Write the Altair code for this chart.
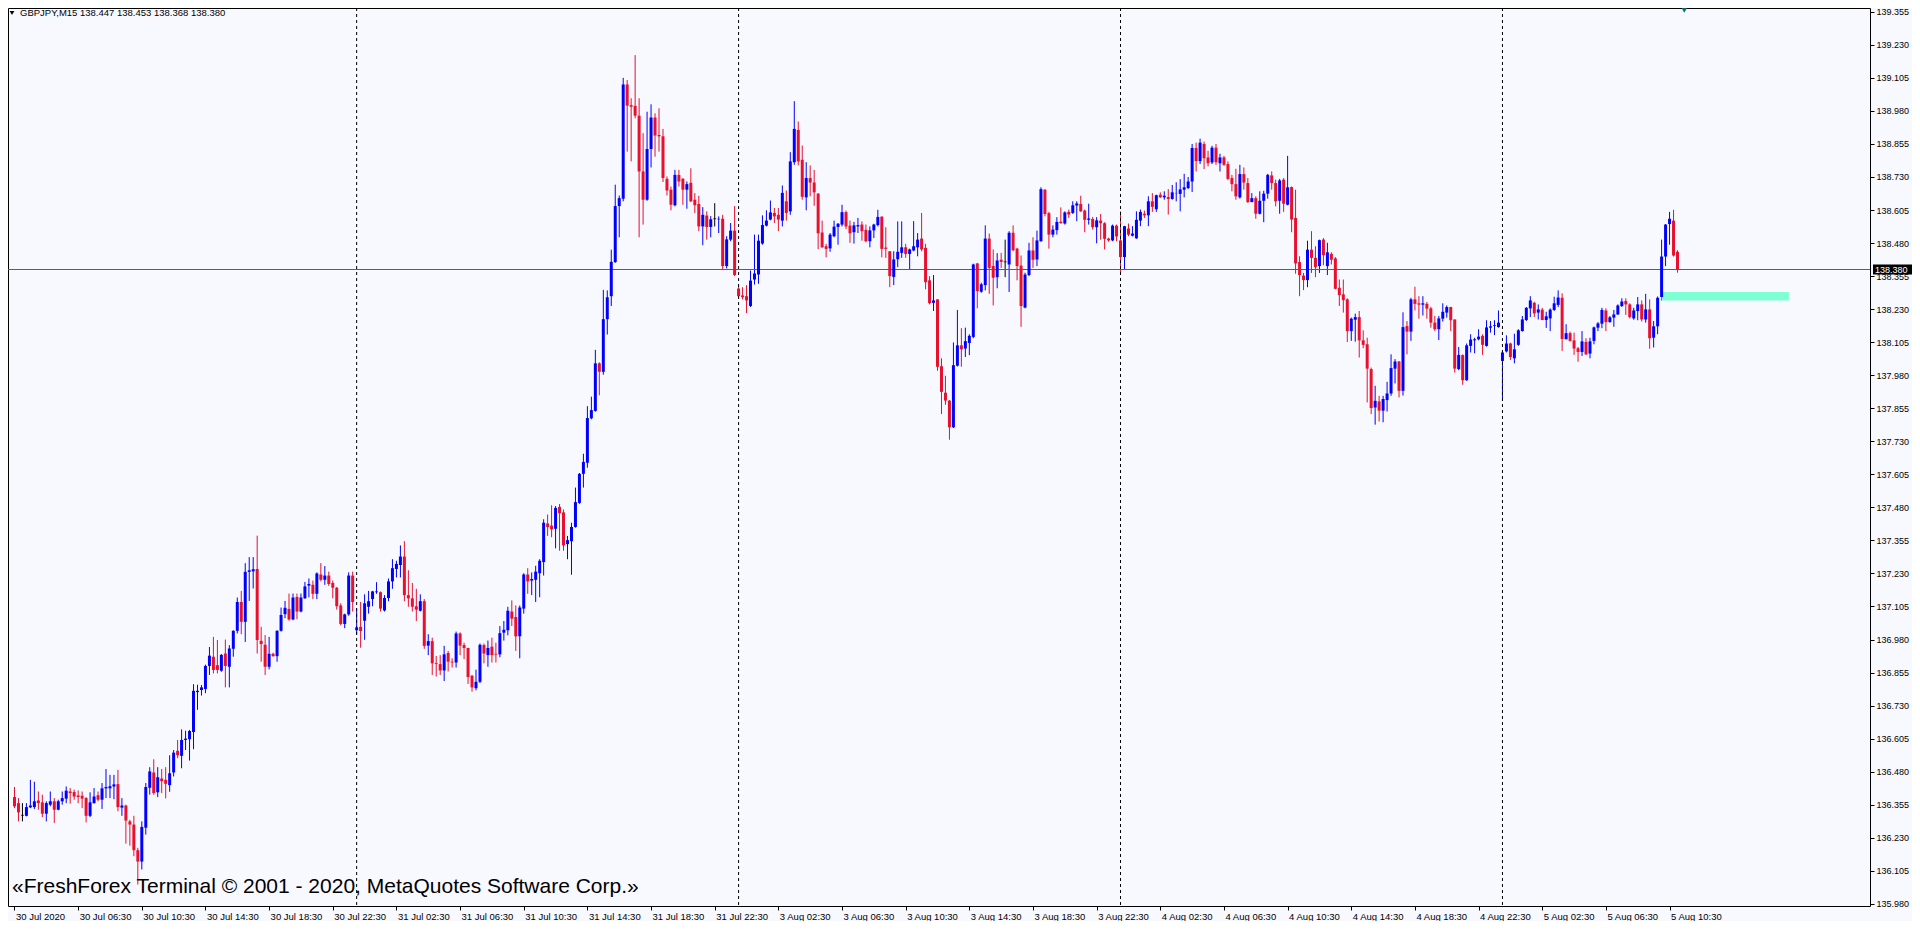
import altair as alt
import pandas as pd

# ---------------- data (GBPJPY, M15) ----------------
OPEN = [
    136.384, 136.361, 136.315, 136.313, 136.345, 136.346, 136.371, 136.364, 136.321, 136.355,
    136.368, 136.336, 136.368, 136.378, 136.405, 136.403, 136.390, 136.389, 136.380, 136.313,
    136.361, 136.391, 136.374, 136.417, 136.417, 136.424, 136.433, 136.344, 136.352, 136.292,
    136.280, 136.183, 136.140, 136.268, 136.419, 136.477, 136.402, 136.454, 136.449, 136.429,
    136.477, 136.559, 136.540, 136.600, 136.603, 136.630, 136.781, 136.789, 136.793, 136.880,
    136.915, 136.883, 136.862, 136.927, 136.877, 136.945, 137.013, 137.122, 137.047, 137.236,
    137.238, 137.247, 136.975, 136.960, 136.877, 136.926, 136.917, 137.013, 137.076, 137.096,
    137.056, 137.141, 137.086, 137.136, 137.184, 137.187, 137.153, 137.226, 137.206, 137.222,
    137.194, 137.176, 137.109, 137.039, 137.075, 137.222, 137.015, 137.028, 137.051, 137.104,
    137.133, 137.159, 137.159, 137.090, 137.137, 137.200, 137.247, 137.262, 137.294, 137.148,
    137.136, 137.106, 137.089, 137.125, 136.957, 136.974, 136.891, 136.887, 136.863, 136.929,
    136.896, 136.893, 137.003, 136.959, 136.948, 136.843, 136.796, 136.820, 136.959, 136.921,
    136.953, 136.926, 136.924, 137.006, 137.015, 137.086, 137.065, 136.992, 137.097, 137.226,
    137.203, 137.206, 137.231, 137.273, 137.419, 137.411, 137.399, 137.482, 137.461, 137.341,
    137.352, 137.406, 137.497, 137.607, 137.649, 137.817, 137.845, 138.025, 137.993, 138.192,
    138.279, 138.408, 138.620, 138.648, 139.080, 139.002, 138.999, 138.962, 138.751, 138.644,
    138.836, 138.955, 138.889, 138.884, 138.723, 138.682, 138.623, 138.738, 138.723, 138.682,
    138.708, 138.644, 138.628, 138.543, 138.584, 138.541, 138.572, 138.570, 138.572, 138.393,
    138.493, 138.527, 138.308, 138.282, 138.279, 138.242, 138.342, 138.361, 138.478, 138.546,
    138.569, 138.594, 138.587, 138.565, 138.638, 138.600, 138.786, 138.908, 138.795, 138.653,
    138.726, 138.709, 138.667, 138.520, 138.468, 138.460, 138.506, 138.541, 138.550, 138.597,
    138.546, 138.521, 138.543, 138.550, 138.530, 138.487, 138.528, 138.548, 138.580, 138.463,
    138.449, 138.352, 138.419, 138.443, 138.464, 138.439, 138.452, 138.464, 138.497, 138.462,
    138.339, 138.254, 138.267, 138.014, 137.914, 137.884, 137.783, 138.016, 138.093, 138.081,
    138.102, 138.125, 138.403, 138.296, 138.321, 138.497, 138.393, 138.351, 138.417, 138.409,
    138.399, 138.519, 138.459, 138.395, 138.236, 138.359, 138.452, 138.418, 138.487, 138.682,
    138.593, 138.512, 138.529, 138.561, 138.554, 138.598, 138.594, 138.622, 138.628, 138.603,
    138.568, 138.571, 138.540, 138.565, 138.555, 138.497, 138.490, 138.546, 138.490, 138.427,
    138.535, 138.508, 138.498, 138.565, 138.591, 138.585, 138.638, 138.608, 138.663, 138.653,
    138.654, 138.647, 138.666, 138.666, 138.682, 138.688, 138.713, 138.840, 138.790, 138.855,
    138.804, 138.785, 138.841, 138.782, 138.804, 138.779, 138.726, 138.703, 138.653, 138.741,
    138.707, 138.635, 138.650, 138.591, 138.640, 138.667, 138.736, 138.707, 138.640, 138.720,
    138.625, 138.692, 138.575, 138.408, 138.357, 138.340, 138.455, 138.424, 138.393, 138.493,
    138.393, 138.439, 138.422, 138.311, 138.286, 138.267, 138.147, 138.190, 138.200, 138.112,
    138.097, 138.003, 137.858, 137.881, 137.846, 137.886, 137.911, 138.005, 138.032, 137.921,
    138.166, 138.145, 138.267, 138.252, 138.247, 138.250, 138.233, 138.179, 138.154, 138.194,
    138.217, 138.238, 138.191, 138.003, 138.056, 137.961, 138.091, 138.112, 138.116, 138.129,
    138.091, 138.160, 138.166, 138.162, 138.034, 138.070, 138.100, 138.044, 138.095, 138.147,
    138.189, 138.233, 138.254, 138.217, 138.228, 138.189, 138.195, 138.227, 138.246, 138.273,
    138.116, 138.139, 138.112, 138.082, 138.068, 138.106, 138.062, 138.110, 138.160, 138.175,
    138.225, 138.181, 138.198, 138.210, 138.242, 138.261, 138.248, 138.195, 138.223, 138.248,
    138.191, 138.229, 138.122, 138.165, 138.276, 138.429, 138.552, 138.565, 138.447,
]
HIGH = [
    136.422, 136.380, 136.361, 136.361, 136.449, 136.442, 136.405, 136.393, 136.368, 136.405,
    136.380, 136.374, 136.405, 136.424, 136.418, 136.412, 136.409, 136.405, 136.384, 136.402,
    136.418, 136.405, 136.437, 136.490, 136.468, 136.468, 136.487, 136.380, 136.355, 136.298,
    136.313, 136.192, 136.292, 136.437, 136.497, 136.527, 136.497, 136.490, 136.497, 136.542,
    136.562, 136.600, 136.640, 136.635, 136.638, 136.811, 136.809, 136.808, 136.885, 136.952,
    136.990, 136.978, 136.925, 136.980, 136.959, 137.015, 137.139, 137.164, 137.269, 137.292,
    137.292, 137.373, 137.028, 136.997, 136.990, 136.930, 137.015, 137.101, 137.126, 137.154,
    137.154, 137.154, 137.154, 137.198, 137.211, 137.203, 137.234, 137.269, 137.258, 137.237,
    137.203, 137.179, 137.117, 137.078, 137.234, 137.237, 137.097, 137.122, 137.151, 137.164,
    137.164, 137.197, 137.162, 137.148, 137.211, 137.284, 137.278, 137.336, 137.352, 137.242,
    137.194, 137.172, 137.151, 137.133, 137.000, 136.987, 136.918, 136.921, 136.956, 136.937,
    136.909, 137.010, 137.007, 136.968, 136.949, 136.846, 136.866, 136.965, 136.965, 136.976,
    136.987, 136.968, 137.031, 137.050, 137.104, 137.128, 137.109, 137.109, 137.231, 137.250,
    137.234, 137.259, 137.284, 137.435, 137.453, 137.488, 137.485, 137.493, 137.472, 137.372,
    137.422, 137.555, 137.610, 137.683, 137.863, 137.899, 138.076, 138.029, 138.303, 138.301,
    138.455, 138.701, 138.660, 139.105, 139.097, 139.028, 139.191, 139.028, 138.896, 138.977,
    139.005, 138.971, 138.990, 138.912, 138.732, 138.694, 138.757, 138.757, 138.726, 138.713,
    138.763, 138.669, 138.659, 138.616, 138.600, 138.582, 138.631, 138.581, 138.587, 138.506,
    138.556, 138.620, 138.323, 138.313, 138.321, 138.376, 138.512, 138.512, 138.585, 138.604,
    138.641, 138.613, 138.613, 138.698, 138.679, 138.824, 139.017, 138.940, 138.849, 138.786,
    138.774, 138.757, 138.669, 138.565, 138.477, 138.518, 138.565, 138.556, 138.625, 138.603,
    138.565, 138.560, 138.575, 138.562, 138.550, 138.543, 138.553, 138.606, 138.581, 138.540,
    138.449, 138.449, 138.562, 138.562, 138.477, 138.459, 138.563, 138.518, 138.594, 138.477,
    138.355, 138.359, 138.267, 138.044, 137.978, 137.886, 138.104, 138.227, 138.158, 138.160,
    138.135, 138.402, 138.405, 138.330, 138.547, 138.516, 138.456, 138.442, 138.443, 138.493,
    138.525, 138.547, 138.462, 138.433, 138.368, 138.481, 138.502, 138.527, 138.691, 138.684,
    138.598, 138.547, 138.578, 138.615, 138.600, 138.607, 138.638, 138.638, 138.659, 138.607,
    138.629, 138.579, 138.578, 138.590, 138.559, 138.500, 138.550, 138.550, 138.600, 138.545,
    138.554, 138.544, 138.600, 138.607, 138.603, 138.657, 138.669, 138.663, 138.672, 138.676,
    138.684, 138.700, 138.710, 138.722, 138.742, 138.730, 138.855, 138.860, 138.875, 138.864,
    138.829, 138.848, 138.855, 138.818, 138.810, 138.789, 138.738, 138.761, 138.776, 138.766,
    138.726, 138.669, 138.657, 138.676, 138.678, 138.742, 138.751, 138.720, 138.723, 138.726,
    138.810, 138.694, 138.682, 138.430, 138.367, 138.489, 138.525, 138.468, 138.493, 138.499,
    138.481, 138.445, 138.427, 138.342, 138.342, 138.271, 138.198, 138.213, 138.223, 138.150,
    138.122, 138.009, 137.940, 137.902, 137.902, 137.955, 138.059, 138.041, 138.034, 138.218,
    138.185, 138.273, 138.315, 138.279, 138.279, 138.257, 138.239, 138.204, 138.204, 138.252,
    138.244, 138.239, 138.191, 138.087, 138.059, 138.100, 138.135, 138.122, 138.154, 138.135,
    138.188, 138.185, 138.188, 138.225, 138.072, 138.131, 138.103, 138.137, 138.154, 138.204,
    138.238, 138.279, 138.258, 138.248, 138.235, 138.220, 138.233, 138.277, 138.301, 138.290,
    138.173, 138.145, 138.141, 138.087, 138.147, 138.120, 138.122, 138.164, 138.181, 138.235,
    138.233, 138.204, 138.227, 138.248, 138.271, 138.271, 138.252, 138.235, 138.276, 138.263,
    138.288, 138.267, 138.185, 138.278, 138.493, 138.552, 138.598, 138.606, 138.453,
]
LOW = [
    136.342, 136.292, 136.292, 136.311, 136.342, 136.339, 136.336, 136.308, 136.292, 136.349,
    136.286, 136.334, 136.355, 136.361, 136.359, 136.374, 136.361, 136.342, 136.288, 136.308,
    136.359, 136.368, 136.339, 136.380, 136.380, 136.376, 136.330, 136.313, 136.208, 136.200,
    136.160, 136.053, 136.110, 136.242, 136.393, 136.393, 136.384, 136.399, 136.379, 136.404,
    136.462, 136.531, 136.493, 136.562, 136.522, 136.565, 136.714, 136.768, 136.777, 136.846,
    136.852, 136.852, 136.858, 136.799, 136.799, 136.915, 137.003, 137.000, 136.971, 137.126,
    137.173, 136.927, 136.896, 136.846, 136.867, 136.915, 136.896, 137.010, 137.061, 137.051,
    137.053, 137.057, 137.083, 137.134, 137.140, 137.133, 137.133, 137.200, 137.187, 137.183,
    137.136, 137.093, 137.034, 137.023, 137.070, 137.086, 136.999, 136.949, 136.979, 137.078,
    137.106, 137.153, 137.086, 137.086, 137.125, 137.172, 137.215, 137.215, 137.125, 137.104,
    137.086, 137.050, 137.086, 136.945, 136.921, 136.846, 136.840, 136.846, 136.823, 136.859,
    136.874, 136.874, 136.921, 136.906, 136.812, 136.783, 136.788, 136.815, 136.890, 136.877,
    136.893, 136.893, 136.913, 136.976, 136.996, 137.031, 136.937, 136.909, 137.078, 137.153,
    137.148, 137.122, 137.140, 137.222, 137.372, 137.367, 137.325, 137.316, 137.316, 137.284,
    137.225, 137.403, 137.493, 137.555, 137.630, 137.813, 137.842, 137.904, 137.982, 138.134,
    138.242, 138.405, 138.502, 138.638, 138.826, 138.789, 138.952, 138.502, 138.550, 138.640,
    138.766, 138.807, 138.826, 138.711, 138.660, 138.604, 138.619, 138.694, 138.625, 138.610,
    138.635, 138.594, 138.525, 138.472, 138.493, 138.502, 138.543, 138.518, 138.380, 138.384,
    138.487, 138.355, 138.273, 138.267, 138.215, 138.238, 138.323, 138.326, 138.474, 138.543,
    138.566, 138.556, 138.525, 138.543, 138.565, 138.587, 138.776, 138.774, 138.644, 138.604,
    138.657, 138.621, 138.457, 138.462, 138.426, 138.447, 138.502, 138.474, 138.543, 138.533,
    138.481, 138.478, 138.518, 138.489, 138.483, 138.464, 138.499, 138.543, 138.426, 138.424,
    138.313, 138.321, 138.389, 138.424, 138.424, 138.380, 138.449, 138.430, 138.449, 138.305,
    138.248, 138.223, 137.997, 137.833, 137.868, 137.736, 137.780, 138.013, 138.012, 138.049,
    138.056, 138.120, 138.233, 138.292, 138.301, 138.288, 138.244, 138.309, 138.386, 138.351,
    138.295, 138.449, 138.339, 138.163, 138.233, 138.355, 138.386, 138.393, 138.485, 138.581,
    138.459, 138.502, 138.512, 138.554, 138.550, 138.575, 138.590, 138.563, 138.598, 138.521,
    138.550, 138.531, 138.479, 138.493, 138.456, 138.485, 138.487, 138.487, 138.361, 138.380,
    138.506, 138.505, 138.496, 138.544, 138.575, 138.544, 138.598, 138.598, 138.651, 138.644,
    138.588, 138.644, 138.638, 138.600, 138.653, 138.684, 138.673, 138.751, 138.779, 138.760,
    138.770, 138.779, 138.776, 138.751, 138.772, 138.718, 138.676, 138.644, 138.648, 138.682,
    138.632, 138.635, 138.572, 138.588, 138.559, 138.648, 138.682, 138.619, 138.591, 138.598,
    138.623, 138.521, 138.364, 138.279, 138.302, 138.313, 138.367, 138.351, 138.367, 138.396,
    138.359, 138.399, 138.305, 138.242, 138.217, 138.106, 138.110, 138.107, 138.047, 138.082,
    137.877, 137.833, 137.793, 137.805, 137.802, 137.843, 137.902, 137.949, 137.896, 137.903,
    138.059, 138.110, 138.225, 138.194, 138.206, 138.194, 138.160, 138.147, 138.113, 138.183,
    138.198, 138.147, 137.990, 137.999, 137.944, 137.959, 138.066, 138.063, 138.112, 138.057,
    138.088, 138.141, 138.132, 138.160, 137.883, 138.066, 138.038, 138.025, 138.091, 138.145,
    138.185, 138.200, 138.200, 138.191, 138.188, 138.159, 138.147, 138.223, 138.238, 138.072,
    138.116, 138.107, 138.057, 138.031, 138.053, 138.057, 138.044, 138.097, 138.147, 138.158,
    138.147, 138.179, 138.163, 138.208, 138.238, 138.208, 138.195, 138.190, 138.188, 138.183,
    138.179, 138.080, 138.085, 138.135, 138.263, 138.393, 138.474, 138.429, 138.368,
]
CLOSE = [
    136.349, 136.326, 136.315, 136.346, 136.352, 136.368, 136.361, 136.321, 136.361, 136.368,
    136.336, 136.368, 136.380, 136.408, 136.399, 136.386, 136.384, 136.378, 136.313, 136.364,
    136.386, 136.374, 136.417, 136.422, 136.425, 136.432, 136.346, 136.352, 136.295, 136.280,
    136.183, 136.140, 136.271, 136.422, 136.481, 136.399, 136.459, 136.444, 136.434, 136.474,
    136.552, 136.542, 136.600, 136.605, 136.634, 136.786, 136.786, 136.799, 136.880, 136.919,
    136.865, 136.865, 136.922, 136.880, 136.946, 137.013, 137.122, 137.047, 137.236, 137.242,
    137.246, 136.978, 136.963, 136.877, 136.926, 136.917, 137.013, 137.073, 137.100, 137.056,
    137.139, 137.086, 137.139, 137.181, 137.190, 137.153, 137.230, 137.206, 137.222, 137.190,
    137.176, 137.106, 137.039, 137.075, 137.222, 137.122, 137.026, 137.012, 137.117, 137.125,
    137.162, 137.162, 137.097, 137.137, 137.200, 137.250, 137.266, 137.294, 137.148, 137.136,
    137.104, 137.093, 137.125, 136.956, 136.974, 136.890, 136.888, 136.863, 136.924, 136.896,
    136.893, 137.003, 136.957, 136.948, 136.838, 136.799, 136.820, 136.960, 136.927, 136.948,
    136.921, 136.923, 137.004, 137.017, 137.089, 137.059, 136.992, 137.101, 137.226, 137.200,
    137.209, 137.237, 137.278, 137.422, 137.406, 137.397, 137.478, 137.458, 137.336, 137.356,
    137.406, 137.500, 137.607, 137.652, 137.818, 137.848, 138.025, 137.993, 138.192, 138.275,
    138.409, 138.620, 138.650, 139.080, 139.000, 138.996, 138.962, 138.751, 138.644, 138.836,
    138.955, 138.887, 138.884, 138.726, 138.679, 138.625, 138.738, 138.713, 138.682, 138.703,
    138.638, 138.623, 138.543, 138.587, 138.541, 138.570, 138.572, 138.572, 138.393, 138.494,
    138.527, 138.359, 138.279, 138.275, 138.263, 138.338, 138.365, 138.489, 138.548, 138.565,
    138.596, 138.581, 138.569, 138.670, 138.594, 138.789, 138.912, 138.789, 138.655, 138.726,
    138.709, 138.672, 138.517, 138.464, 138.458, 138.512, 138.542, 138.553, 138.597, 138.543,
    138.517, 138.547, 138.548, 138.525, 138.487, 138.528, 138.550, 138.579, 138.458, 138.458,
    138.355, 138.418, 138.447, 138.464, 138.439, 138.456, 138.468, 138.493, 138.456, 138.332,
    138.253, 138.263, 138.012, 137.917, 137.884, 137.783, 138.018, 138.093, 138.078, 138.109,
    138.129, 138.399, 138.298, 138.324, 138.497, 138.386, 138.349, 138.414, 138.409, 138.409,
    138.519, 138.453, 138.393, 138.242, 138.361, 138.452, 138.417, 138.490, 138.684, 138.590,
    138.512, 138.531, 138.560, 138.555, 138.596, 138.588, 138.623, 138.630, 138.600, 138.568,
    138.573, 138.540, 138.566, 138.555, 138.496, 138.490, 138.546, 138.505, 138.427, 138.544,
    138.512, 138.516, 138.568, 138.598, 138.585, 138.638, 138.617, 138.661, 138.653, 138.659,
    138.647, 138.672, 138.667, 138.683, 138.691, 138.713, 138.840, 138.790, 138.860, 138.801,
    138.782, 138.841, 138.786, 138.804, 138.776, 138.723, 138.703, 138.657, 138.741, 138.709,
    138.635, 138.650, 138.591, 138.640, 138.667, 138.738, 138.707, 138.638, 138.717, 138.629,
    138.691, 138.569, 138.403, 138.359, 138.340, 138.455, 138.424, 138.389, 138.491, 138.434,
    138.445, 138.417, 138.307, 138.283, 138.264, 138.147, 138.194, 138.200, 138.112, 138.095,
    138.005, 137.856, 137.883, 137.846, 137.890, 137.911, 138.007, 138.032, 137.921, 138.162,
    138.145, 138.267, 138.250, 138.247, 138.252, 138.232, 138.179, 138.154, 138.195, 138.220,
    138.238, 138.188, 138.005, 138.057, 137.961, 138.093, 138.115, 138.116, 138.126, 138.095,
    138.161, 138.165, 138.169, 138.179, 138.066, 138.100, 138.049, 138.078, 138.150, 138.191,
    138.235, 138.263, 138.214, 138.229, 138.189, 138.203, 138.228, 138.252, 138.274, 138.117,
    138.139, 138.110, 138.081, 138.068, 138.108, 138.059, 138.108, 138.161, 138.176, 138.227,
    138.181, 138.199, 138.210, 138.244, 138.259, 138.248, 138.200, 138.225, 138.248, 138.191,
    138.229, 138.120, 138.165, 138.273, 138.429, 138.550, 138.572, 138.433, 138.380,
]

# time-axis labels, one every 16 bars (4 hours of M15 bars), starting at bar 0
X_LABELS = [
    "30 Jul 2020", "30 Jul 06:30", "30 Jul 10:30", "30 Jul 14:30", "30 Jul 18:30",
    "30 Jul 22:30", "31 Jul 02:30", "31 Jul 06:30", "31 Jul 10:30", "31 Jul 14:30",
    "31 Jul 18:30", "31 Jul 22:30", "3 Aug 02:30", "3 Aug 06:30", "3 Aug 10:30",
    "3 Aug 14:30", "3 Aug 18:30", "3 Aug 22:30", "4 Aug 02:30", "4 Aug 06:30",
    "4 Aug 10:30", "4 Aug 14:30", "4 Aug 18:30", "4 Aug 22:30", "5 Aug 02:30",
    "5 Aug 06:30", "5 Aug 10:30",
]
X_TICK_STEP = 16
Y_TICKS = [
    135.980, 136.105, 136.230, 136.355, 136.480, 136.605, 136.730, 136.855, 136.980,
    137.105, 137.230, 137.355, 137.480, 137.605, 137.730, 137.855, 137.980, 138.105,
    138.230, 138.355, 138.480, 138.605, 138.730, 138.855, 138.980, 139.105, 139.230, 139.355,
]
DAY_STARTS = [86, 182, 278, 374]          # bar index of 31 Jul, 3 Aug, 4 Aug, 5 Aug 00:00
BID = 138.380
HEADER = "GBPJPY,M15  138.447 138.453 138.368 138.380"
WATERMARK = "\u00abFreshForex Terminal \u00a9 2001 - 2020, MetaQuotes Software Corp.\u00bb"
ZONE_START, ZONE_END, ZONE_LOW, ZONE_HIGH = 414, 446, 138.263, 138.295
SHIFT_MARK = 419.7

# ---------------- build tables ----------------
rows = []
for i, (o, h, l, c) in enumerate(zip(OPEN, HIGH, LOW, CLOSE)):
    d = "up" if c > o else ("down" if c < o else "flat")
    rows.append({"i": i, "o": o, "h": max(h, o, c), "l": min(l, o, c), "c": c, "d": d})
df = pd.DataFrame(rows)

W, H = 1862, 898
XDOM = [-0.375, W / 4 - 0.375]
YDOM = [135.9718, 139.3694]
xs = alt.Scale(domain=XDOM, nice=False, zero=False)
ys = alt.Scale(domain=YDOM, nice=False, zero=False)
col = alt.Color("d:N", scale=alt.Scale(domain=["up", "down", "flat"],
                                      range=["#0000FF", "#E8102E", "#000000"]), legend=None)

label_expr = "[" + ",".join("'%s'" % s for s in X_LABELS) + "][round(datum.value/%d)]" % X_TICK_STEP
x_axis = alt.Axis(values=[k * X_TICK_STEP for k in range(len(X_LABELS))], labelExpr=label_expr,
                  title=None, grid=False, domain=False, ticks=True, tickSize=4, tickColor="#000",
                  labelAlign="left", labelBaseline="top", labelPadding=1, labelOffset=1,
                  labelFont="Liberation Sans", labelFontSize=9.5, labelColor="#000",
                  labelOverlap=False, labelFlush=False, labelBound=False)
y_axis = alt.Axis(values=Y_TICKS, format=".3f", orient="right", title=None, grid=False,
                  domain=False, tickSize=4, tickColor="#000", labelPadding=2,
                  labelFont="Liberation Sans", labelFontSize=9, labelColor="#000",
                  labelOverlap=False, labelFlush=False, labelBound=False)


def X(f):
    return alt.X(f, scale=xs, axis=x_axis, title=None)


def Y(f):
    return alt.Y(f, scale=ys, axis=y_axis, title=None)


base = alt.Chart(df)

wicks = base.mark_rule(strokeWidth=1).encode(x=X("i:Q"), y=Y("l:Q"), y2="h:Q", color=col)
bodies = base.mark_bar(size=3).encode(x=X("i:Q"), y=Y("o:Q"), y2="c:Q", color=col)
flats = base.transform_filter("datum.d == 'flat'").mark_tick(orient="horizontal", size=3, thickness=1).encode(
    x=X("i:Q"), y=Y("c:Q"), color=col)

days = alt.Chart(pd.DataFrame({"i": DAY_STARTS})).mark_rule(
    color="#000", strokeWidth=1, strokeDash=[3, 3]).encode(x=X("i:Q"))

bid_line = alt.Chart(pd.DataFrame({"p": [BID]})).mark_rule(color="#0F7F7F", strokeWidth=1).encode(y=Y("p:Q"))

zone = alt.Chart(pd.DataFrame({"a": [ZONE_START], "b": [ZONE_END], "lo": [ZONE_LOW], "hi": [ZONE_HIGH]})).mark_rect(
    color="#7FFFD4").encode(x=X("a:Q"), x2="b:Q", y=Y("lo:Q"), y2="hi:Q")

bid_box = alt.Chart(pd.DataFrame({"p": [BID]})).mark_tick(
    orient="horizontal", size=41, thickness=10, color="#000", opacity=1).encode(
    x=alt.value(W + 23.5), y=Y("p:Q"))
bid_text = alt.Chart(pd.DataFrame({"p": [BID], "t": ["%.3f" % BID]})).mark_text(
    align="left", baseline="middle", font="Liberation Sans", fontSize=9, color="#FFFFFF").encode(
    x=alt.value(W + 5), y=Y("p:Q"), text="t:N")

header = alt.Chart(pd.DataFrame({"t": [HEADER]})).mark_text(
    align="left", baseline="alphabetic", font="Liberation Sans", fontSize=9.5, color="#000").encode(
    x=alt.value(12), y=alt.value(8), text="t:N")
header_tri = alt.Chart(pd.DataFrame({"t": [HEADER]})).mark_point(
    shape="triangle-down", filled=True, size=22, color="#000", opacity=1).encode(
    x=alt.value(4), y=alt.value(5))

shift_tri = alt.Chart(pd.DataFrame({"i": [SHIFT_MARK]})).mark_point(
    shape="triangle-down", filled=True, size=40, color="#0B6E6E", opacity=1).encode(
    x=X("i:Q"), y=alt.value(2))

watermark = alt.Chart(pd.DataFrame({"t": [WATERMARK]})).mark_text(
    align="left", baseline="alphabetic", font="Liberation Sans", fontSize=21, color="#000").encode(
    x=alt.value(4), y=alt.value(885), text="t:N")

chart = alt.layer(
    wicks, days, bid_line, zone, bodies, flats, bid_box, bid_text, header_tri, header, shift_tri, watermark
).properties(
    width=W, height=H,
    autosize=alt.AutoSizeParams(type="none"),
    padding={"left": 0, "top": 0, "right": 42, "bottom": 15},
    background="#F8F8FF",
).configure_view(stroke="#000", strokeWidth=1)

chart.save("out.html", embed_options={"renderer": "svg", "actions": False})
